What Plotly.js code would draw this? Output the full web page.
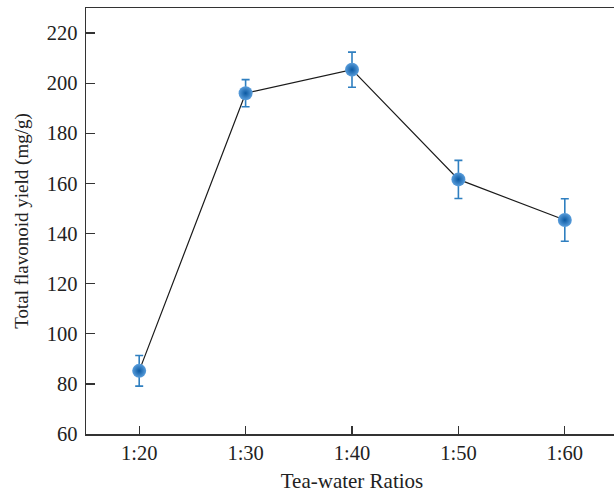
<!DOCTYPE html>
<html>
<head>
<meta charset="utf-8">
<script src="https://cdn.plot.ly/plotly-3.0.1.min.js"></script>
<style>
  html, body { margin: 0; padding: 0; overflow: hidden; background: #fff; }
  #chart { width: 626px; height: 493px; }
</style>
</head>
<body>
<div id="chart"></div>
<script>
// Tea-water ratio vs total flavonoid yield (mean ± error)
const ratios = ['1:20', '1:30', '1:40', '1:50', '1:60'];
const yieldMean = [85.2, 196.0, 205.4, 161.6, 145.4];
const yieldErr = [6.1, 5.4, 7.0, 7.6, 8.5];
const yTicks = [60, 80, 100, 120, 140, 160, 180, 200, 220];

const fontFamily = '"Liberation Serif", "DejaVu Serif", serif';
const textColor = '#222';

const trace = {
  x: ratios,
  y: yieldMean,
  type: 'scatter',
  mode: 'lines+markers',
  line: { color: '#1a1a1a', width: 1.2 },
  marker: {
    size: 14,
    color: '#5a9edc',
    gradient: { type: 'radial', color: '#0b59a2' },
    line: { width: 0 }
  },
  error_y: {
    type: 'data',
    array: yieldErr,
    visible: true,
    color: '#2f7fc0',
    thickness: 1.6,
    width: 4
  },
  hoverinfo: 'skip'
};

const layout = {
  width: 626,
  height: 493,
  margin: { l: 86, r: 8, t: 8, b: 59 },
  paper_bgcolor: '#fff',
  plot_bgcolor: '#fff',
  showlegend: false,
  font: { family: fontFamily, size: 20, color: textColor },
  xaxis: {
    type: 'category',
    range: [-0.5, 4.5],
    showgrid: false,
    zeroline: false,
    showline: true,
    linecolor: '#333',
    linewidth: 1.5,
    mirror: true,
    ticks: 'inside',
    ticklen: 8,
    tickwidth: 1.3,
    tickcolor: '#333',
    tickfont: { family: fontFamily, size: 20.5, color: textColor },
    title: { text: 'Tea-water Ratios', font: { family: fontFamily, size: 21, color: textColor }, standoff: 13 }
  },
  yaxis: {
    range: [60, 230],
    tickvals: yTicks,
    showgrid: false,
    zeroline: false,
    showline: true,
    linecolor: '#333',
    linewidth: 1.5,
    mirror: false,
    ticks: 'inside',
    ticklen: 9,
    tickwidth: 1.3,
    tickcolor: '#333',
    ticklabelstandoff: 3,
    tickfont: { family: fontFamily, size: 20.5, color: textColor },
    title: { text: 'Total flavonoid yield (mg/g)', font: { family: fontFamily, size: 19, color: textColor }, standoff: 13 }
  }
};

Plotly.newPlot('chart', [trace], layout, { staticPlot: true, displayModeBar: false });
</script>
</body>
</html>
